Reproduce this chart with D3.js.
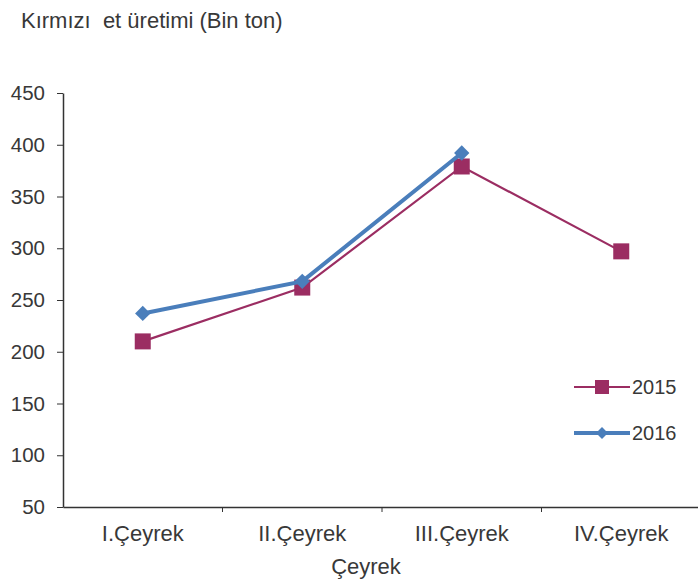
<!DOCTYPE html>
<html><head><meta charset="utf-8">
<script src="https://cdn.jsdelivr.net/npm/d3@7"></script>
<style>body{margin:0;background:#fff}svg{display:block;font-family:"Liberation Sans",Arial,sans-serif}</style>
</head><body>
<svg id="c" width="698" height="584"></svg>
<script>
const categories = ["I.Çeyrek","II.Çeyrek","III.Çeyrek","IV.Çeyrek"];
const values2015 = [210, 262, 379, 297];
const values2016 = [237, 268, 392];
const yTicks = [50,100,150,200,250,300,350,400,450];

const svg = d3.select("#c");
const x = d3.scaleBand().domain(categories).range([63, 701]);
const y = d3.scaleLinear().domain([50,450]).range([507, 93]);
const txt = "#383838";
const ff = "Liberation Sans, Arial, sans-serif";

svg.append("text").attr("x",21).attr("y",28).attr("font-size",22).attr("fill",txt).attr("xml:space","preserve").text("Kırmızı  et üretimi (Bin ton)");

// y axis
const ya = svg.append("g").attr("transform","translate(63,0)").call(d3.axisLeft(y).tickValues(yTicks).tickSize(6).tickPadding(12).tickSizeOuter(0));
ya.select(".domain").attr("stroke","#333").attr("stroke-width",1.5);
ya.selectAll("line").attr("stroke","#333");
ya.selectAll("text").attr("font-size",20.5).attr("fill",txt).attr("font-family",ff);

// x axis
const xa = svg.append("g").attr("transform","translate(0,507)").call(d3.axisBottom(x).tickSize(0).tickPadding(20).tickSizeOuter(0));
xa.select(".domain").attr("stroke","#333").attr("stroke-width",1.5);
xa.selectAll("text").attr("font-size",22).attr("fill",txt).attr("font-family",ff).attr("dy","0.62em");
// boundary ticks
svg.append("g").selectAll("line").data(categories.slice(1)).join("line")
  .attr("x1",d=>x(d)).attr("x2",d=>x(d)).attr("y1",507).attr("y2",512).attr("stroke","#333");

svg.append("text").attr("x",366).attr("y",574).attr("text-anchor","middle").attr("font-size",22).attr("fill",txt).text("Çeyrek");

const cx = d => x(d) + x.bandwidth()/2;
const line = d3.line().x(d=>cx(d.c)).y(d=>y(d.v));
const c15 = "#9B2D62", c16 = "#4A7EBB";
const d15 = categories.map((c,i)=>({c, v:values2015[i]}));
const d16 = values2016.map((v,i)=>({c:categories[i], v}));

svg.append("path").datum(d15).attr("d",line).attr("fill","none").attr("stroke",c15).attr("stroke-width",2.2);
svg.selectAll(".sq").data(d15).join("rect").attr("x",d=>cx(d.c)-8).attr("y",d=>y(d.v)-8).attr("width",16).attr("height",16).attr("fill",c15);

svg.append("path").datum(d16).attr("d",line).attr("fill","none").attr("stroke",c16).attr("stroke-width",4);
svg.selectAll(".dm").data(d16).join("path").attr("d",d3.symbol(d3.symbolDiamond2,150)).attr("transform",d=>`translate(${cx(d.c)},${y(d.v)})`).attr("fill",c16);

// legend
const lg = [{n:"2015",c:c15,w:2.2,s:"sq"},{n:"2016",c:c16,w:4,s:"dm"}];
lg.forEach((l,i)=>{
  const ly = 387 + i*46;
  svg.append("line").attr("x1",574).attr("x2",630).attr("y1",ly).attr("y2",ly).attr("stroke",l.c).attr("stroke-width",l.w);
  if(l.s==="sq") svg.append("rect").attr("x",595).attr("y",ly-7).attr("width",14).attr("height",14).attr("fill",l.c);
  else svg.append("path").attr("d",d3.symbol(d3.symbolDiamond2,90)).attr("transform",`translate(602,${ly})`).attr("fill",l.c);
  svg.append("text").attr("x",632).attr("y",ly+7).attr("font-size",20).attr("fill",txt).text(l.n);
});
</script>
</body></html>
